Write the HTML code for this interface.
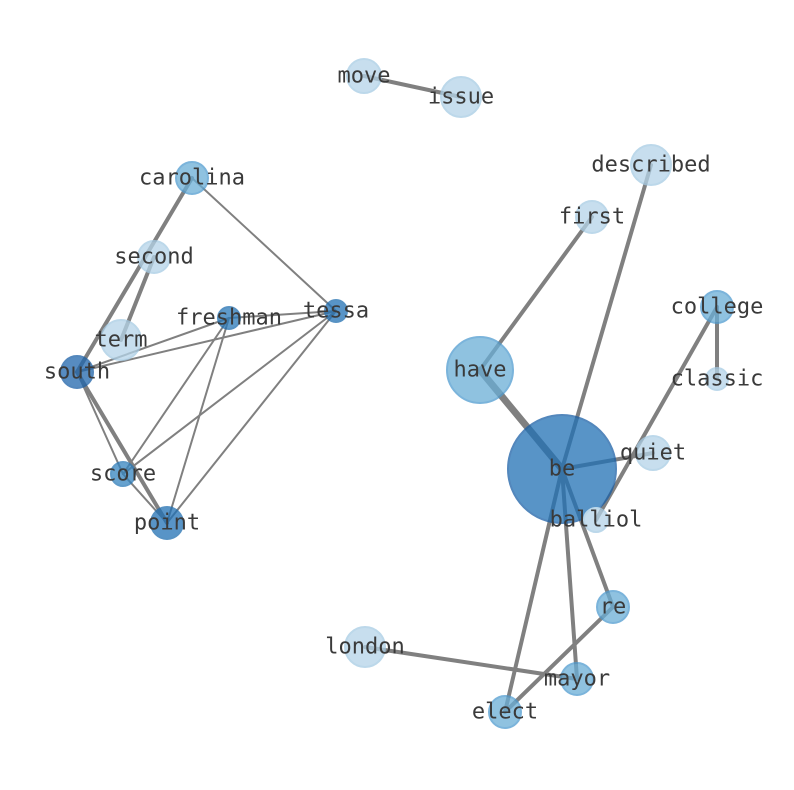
<!DOCTYPE html>
<html><head><style>body{margin:0;background:#fff}svg{display:block}text{font-family:"DejaVu Sans Mono","Liberation Mono",monospace;font-size:22px;fill:#3a3a3a;text-anchor:middle;dominant-baseline:central}</style></head><body>
<svg width="794" height="790" viewBox="0 0 794 790">
<g stroke="#808080" stroke-linecap="round">
<line x1="364" y1="76" x2="461" y2="97" stroke-width="4"/>
<line x1="192" y1="178" x2="77" y2="372" stroke-width="4"/>
<line x1="154" y1="257" x2="121" y2="340" stroke-width="4"/>
<line x1="77" y1="372" x2="167" y2="523" stroke-width="4"/>
<line x1="192" y1="178" x2="336" y2="311" stroke-width="2"/>
<line x1="229" y1="318" x2="336" y2="311" stroke-width="2"/>
<line x1="77" y1="372" x2="229" y2="318" stroke-width="2"/>
<line x1="77" y1="372" x2="336" y2="311" stroke-width="2"/>
<line x1="77" y1="372" x2="123" y2="474" stroke-width="2"/>
<line x1="229" y1="318" x2="123" y2="474" stroke-width="2"/>
<line x1="229" y1="318" x2="167" y2="523" stroke-width="2"/>
<line x1="336" y1="311" x2="123" y2="474" stroke-width="2"/>
<line x1="336" y1="311" x2="167" y2="523" stroke-width="2"/>
<line x1="123" y1="474" x2="167" y2="523" stroke-width="2"/>
<line x1="562" y1="469" x2="480" y2="370" stroke-width="7"/>
<line x1="592" y1="217" x2="480" y2="370" stroke-width="4"/>
<line x1="562" y1="469" x2="651" y2="165" stroke-width="4"/>
<line x1="562" y1="469" x2="653" y2="453" stroke-width="4"/>
<line x1="717" y1="307" x2="596" y2="520" stroke-width="4"/>
<line x1="717" y1="307" x2="717" y2="379" stroke-width="4"/>
<line x1="562" y1="469" x2="613" y2="607" stroke-width="4"/>
<line x1="562" y1="469" x2="577" y2="679" stroke-width="4"/>
<line x1="562" y1="469" x2="505" y2="712" stroke-width="4"/>
<line x1="365" y1="647" x2="577" y2="679" stroke-width="4"/>
<line x1="613" y1="607" x2="505" y2="712" stroke-width="4"/>
</g>
<g stroke-width="2" opacity="0.75">
<circle cx="364" cy="76" r="17" fill="#b5d4e9" stroke="#a6cbe4"/>
<circle cx="461" cy="97" r="20" fill="#b5d4e9" stroke="#a6cbe4"/>
<circle cx="651" cy="165" r="20" fill="#b5d4e9" stroke="#a6cbe4"/>
<circle cx="592" cy="217" r="16" fill="#b5d4e9" stroke="#a6cbe4"/>
<circle cx="192" cy="178" r="16" fill="#6aaed6" stroke="#4f9bcf"/>
<circle cx="154" cy="257" r="16" fill="#b5d4e9" stroke="#a6cbe4"/>
<circle cx="229" cy="318" r="11" fill="#2979b9" stroke="#1f6eb0"/>
<circle cx="336" cy="311" r="11" fill="#2171b5" stroke="#1f6eb0"/>
<circle cx="121" cy="340" r="20" fill="#b5d4e9" stroke="#a6cbe4"/>
<circle cx="77" cy="372" r="16" fill="#1f66ad" stroke="#1a5fa6"/>
<circle cx="480" cy="370" r="33" fill="#6aaed6" stroke="#4f9bcf"/>
<circle cx="717" cy="307" r="16" fill="#6aaed6" stroke="#4f9bcf"/>
<circle cx="717" cy="379" r="11" fill="#b5d4e9" stroke="#a6cbe4"/>
<circle cx="562" cy="469" r="54" fill="#2171b5" stroke="#1a5fa6"/>
<circle cx="653" cy="453" r="17" fill="#b5d4e9" stroke="#a6cbe4"/>
<circle cx="596" cy="520" r="12" fill="#b5d4e9" stroke="#a6cbe4"/>
<circle cx="123" cy="474" r="12" fill="#3484bf" stroke="#2a7ab8"/>
<circle cx="167" cy="523" r="16" fill="#2171b5" stroke="#1f6eb0"/>
<circle cx="613" cy="607" r="16" fill="#6aaed6" stroke="#4f9bcf"/>
<circle cx="365" cy="647" r="20" fill="#b5d4e9" stroke="#a6cbe4"/>
<circle cx="577" cy="679" r="16" fill="#6aaed6" stroke="#4f9bcf"/>
<circle cx="505" cy="712" r="16" fill="#6aaed6" stroke="#4f9bcf"/>
</g>
<g>
<text x="364" y="76">move</text><text x="461" y="97">issue</text><text x="651" y="165">described</text>
<text x="592" y="217">first</text><text x="192" y="178">carolina</text><text x="154" y="257">second</text>
<text x="229" y="318">freshman</text><text x="336" y="311">tessa</text><text x="121" y="340">term</text>
<text x="77" y="372">south</text><text x="480" y="370">have</text><text x="717" y="307">college</text>
<text x="717" y="379">classic</text><text x="562" y="469">be</text><text x="653" y="453">quiet</text>
<text x="596" y="520">balliol</text><text x="123" y="474">score</text><text x="167" y="523">point</text>
<text x="613" y="607">re</text><text x="365" y="647">london</text><text x="577" y="679">mayor</text>
<text x="505" y="712">elect</text>
</g>
</svg>
</body></html>
